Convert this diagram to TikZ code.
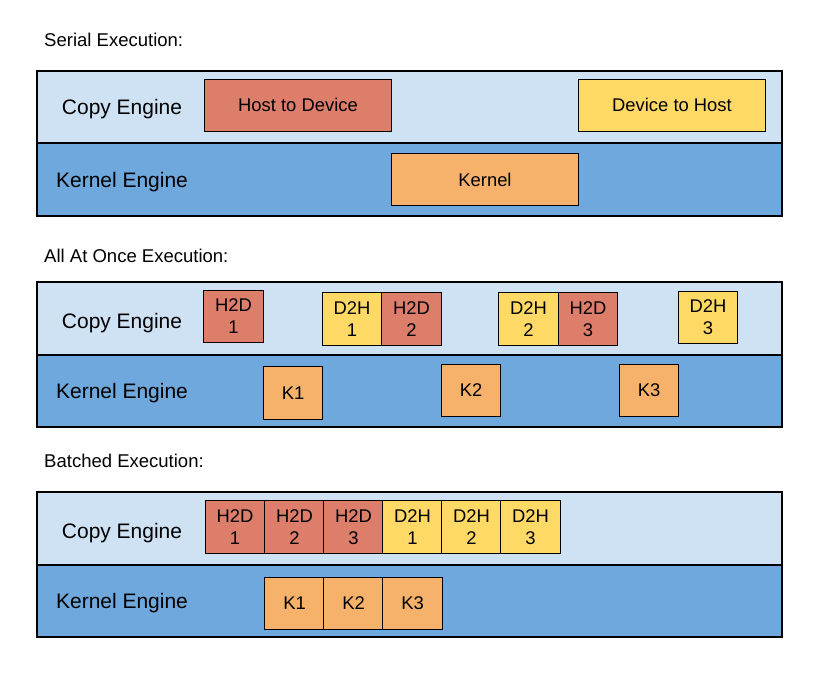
\documentclass[tikz,border=0pt]{standalone}
\usepackage{fontspec}
\setmainfont{Liberation Sans}
\usepackage{tikz}
\usetikzlibrary{fit}
\definecolor{lanelight}{HTML}{CFE2F3}
\definecolor{lanedark}{HTML}{6FA8DC}
\definecolor{hdred}{HTML}{DD7E6B}
\definecolor{dhyellow}{HTML}{FFD966}
\definecolor{kborange}{HTML}{F6B26B}
\tikzstyle{lane}=[draw, line width=0.9pt, inner sep=0pt]
\tikzstyle{copylane}=[lane, fill=lanelight]
\tikzstyle{kernlane}=[lane, fill=lanedark]
\tikzstyle{job}=[draw, line width=0.8pt, inner sep=0pt, align=center,
    minimum width=1.78cm, minimum height=1.57cm,
    font=\fontsize{15.7}{18.7}\selectfont]
\tikzstyle{long}=[minimum width=5.62cm, minimum height=1.56cm]
\tikzstyle{htod}=[job, fill=hdred]
\tikzstyle{dtoh}=[job, fill=dhyellow]
\tikzstyle{kern}=[job, fill=kborange]
\tikzstyle{engine}=[anchor=base, font=\fontsize{17.9}{21}\selectfont]
\tikzstyle{title}=[anchor=base west, inner sep=0pt, font=\fontsize{15.8}{19}\selectfont]

\begin{document}
\begin{tikzpicture}[x=0.03cm, y=-0.03cm]
            \useasboundingbox (0,0) rectangle (817,676);
            % serial
            \node[title] (serT) at (44, 47) {Serial Execution:};
            \node[copylane, fit={(37,71) (782,143)}] (serCopy) {};
            \node[kernlane, fit={(37,143) (782,216)}] (serKern) {};
            \node[engine] (serCE) at (122, 115) {Copy Engine};
            \node[engine] (serKE) at (122, 187) {Kernel Engine};
            \node[htod, long] (serH) at (298, 105) {Host to Device};
            \node[kern, long] (serK) at (485, 179.5) {Kernel};
            \node[dtoh, long] (serD) at (672, 105) {Device to Host};
            % all at once
            \node[title] (aaoT) at (44, 262) {All At Once Execution:};
            \node[copylane, fit={(37,282) (782,355)}] (aaoCopy) {};
            \node[kernlane, fit={(37,355) (782,427)}] (aaoKern) {};
            \node[engine] (aaoCE) at (122, 328) {Copy Engine};
            \node[engine] (aaoKE) at (122, 398) {Kernel Engine};
            \node[htod] (aaoH1) at (233.5, 316.5) {H2D\\1};
            \node[dtoh] (aaoD1) at (352, 319) {D2H\\1};
            \node[htod] (aaoH2) at (411.5, 319) {H2D\\2};
            \node[dtoh] (aaoD2) at (528.5, 319) {D2H\\2};
            \node[htod] (aaoH3) at (588, 319) {H2D\\3};
            \node[dtoh] (aaoD3) at (708, 317.5) {D2H\\3};
            \node[kern] (aaoK1) at (293, 393) {K1};
            \node[kern] (aaoK2) at (471, 390.5) {K2};
            \node[kern] (aaoK3) at (649, 390.5) {K3};
            % batched
            \node[title] (batT) at (44, 467) {Batched Execution:};
            \node[copylane, fit={(37,492) (782,565)}] (batCopy) {};
            \node[kernlane, fit={(37,565) (782,637)}] (batKern) {};
            \node[engine] (batCE) at (122, 538) {Copy Engine};
            \node[engine] (batKE) at (122, 608) {Kernel Engine};
            \node[htod] (batH1) at (235, 527) {H2D\\1};
            \node[htod] (batH2) at (294.5, 527) {H2D\\2};
            \node[htod] (batH3) at (353.5, 527) {H2D\\3};
            \node[dtoh] (batD1) at (412.5, 527) {D2H\\1};
            \node[dtoh] (batD2) at (471.5, 527) {D2H\\2};
            \node[dtoh] (batD3) at (530.5, 527) {D2H\\3};
            \node[kern] (batK1) at (294.5, 603.5) {K1};
            \node[kern] (batK2) at (353.5, 603.5) {K2};
            \node[kern] (batK3) at (412.5, 603.5) {K3};
\end{tikzpicture}
\end{document}
